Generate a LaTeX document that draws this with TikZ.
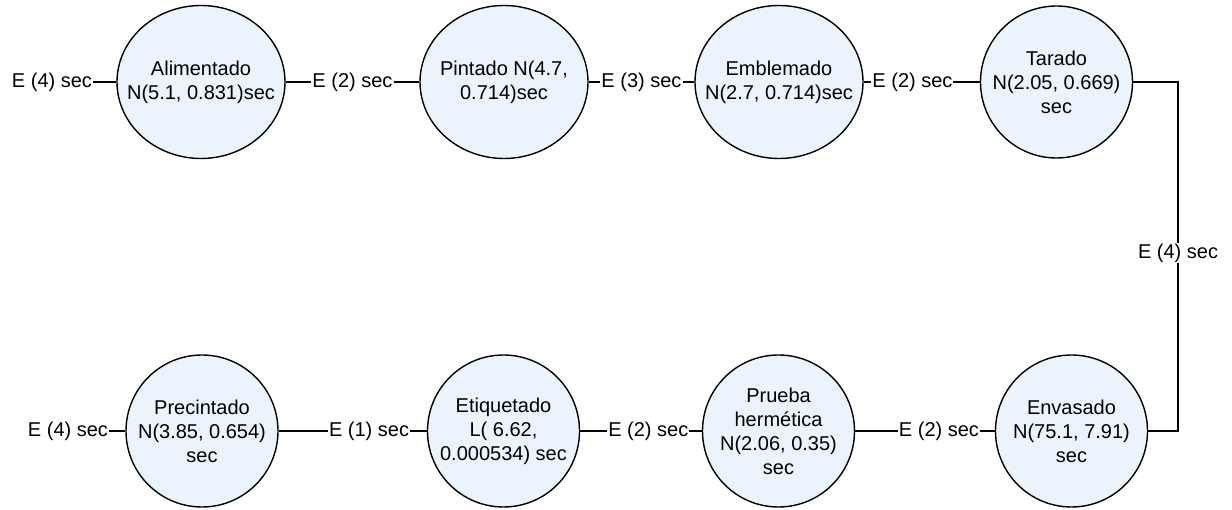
\documentclass[tikz,border=0pt]{standalone}
\usepackage{fontspec}
\setmainfont{Liberation Sans}
\usetikzlibrary{shapes.geometric}
\definecolor{nodefill}{RGB}{235,243,253}
\tikzset{
  proc/.style={ellipse, draw=black, line width=1.4pt, fill=nodefill, inner sep=0pt},
  txt/.style={align=center, font=\fontsize{20}{24}\selectfont, inner sep=0pt},
  wide/.style={minimum width=168pt, minimum height=153pt},
  round/.style={minimum width=152pt, minimum height=152pt},
  lbl/.style={fill=white, inner sep=1pt, font=\fontsize{20}{24}\selectfont},
  conn/.style={draw=black, line width=2pt}
}
\begin{document}
\begin{tikzpicture}[x=1pt,y=1pt]
\useasboundingbox (0,0) rectangle (1232,509);
% top row
\node[proc,wide,label={[txt]center:Alimentado\\N(5.1, 0.831)sec}] (ali) at (201,427) {};
\node[proc,wide,label={[txt]center:Pintado N(4.7,\\0.714)sec}] (pin) at (504,427) {};
\node[proc,wide,label={[txt]center:Emblemado\\N(2.7, 0.714)sec}] (emb) at (779,427) {};
\node[proc,round,label={[txt]center:Tarado\\N(2.05, 0.669)\\sec}] (tar) at (1056.5,427) {};
% bottom row
\node[proc,round,label={[txt]center:Envasado\\N(75.1, 7.91)\\sec}] (env) at (1071.5,78) {};
\node[proc,round,label={[txt]center:Prueba\\herm\'etica\\N(2.06, 0.35)\\sec}] (pru) at (778.5,78) {};
\node[proc,round,label={[txt]center:Etiquetado\\L( 6.62,\\0.000534) sec}] (eti) at (503.5,78) {};
\node[proc,round,label={[txt]center:Precintado\\N(3.85, 0.654)\\sec}] (pre) at (202,78) {};
% free-end labels
\node[lbl] (in1) at (52,427) {E (4) sec};
\node[lbl] (out1) at (68,78) {E (4) sec};
\coordinate (c1) at (1178,427);
\coordinate (c2) at (1178,78);
% connectors
\draw[conn] (in1) -- (ali);
\draw[conn] (ali) -- node[lbl]{E (2) sec} (pin);
\draw[conn] (pin) -- node[lbl]{E (3) sec} (emb);
\draw[conn] (emb) -- node[lbl,pos=0.42]{E (2) sec} (tar);
\draw[conn] (tar) -- (c1) -- node[lbl,pos=0.49]{E (4) sec} (c2) -- (env);
\draw[conn] (env) -- node[lbl,pos=0.4]{E (2) sec} (pru);
\draw[conn] (pru) -- node[lbl,pos=0.44]{E (2) sec} (eti);
\draw[conn] (eti) -- node[lbl,pos=0.39]{E (1) sec} (pre);
\draw[conn] (pre) -- (out1);
\end{tikzpicture}
\end{document}
